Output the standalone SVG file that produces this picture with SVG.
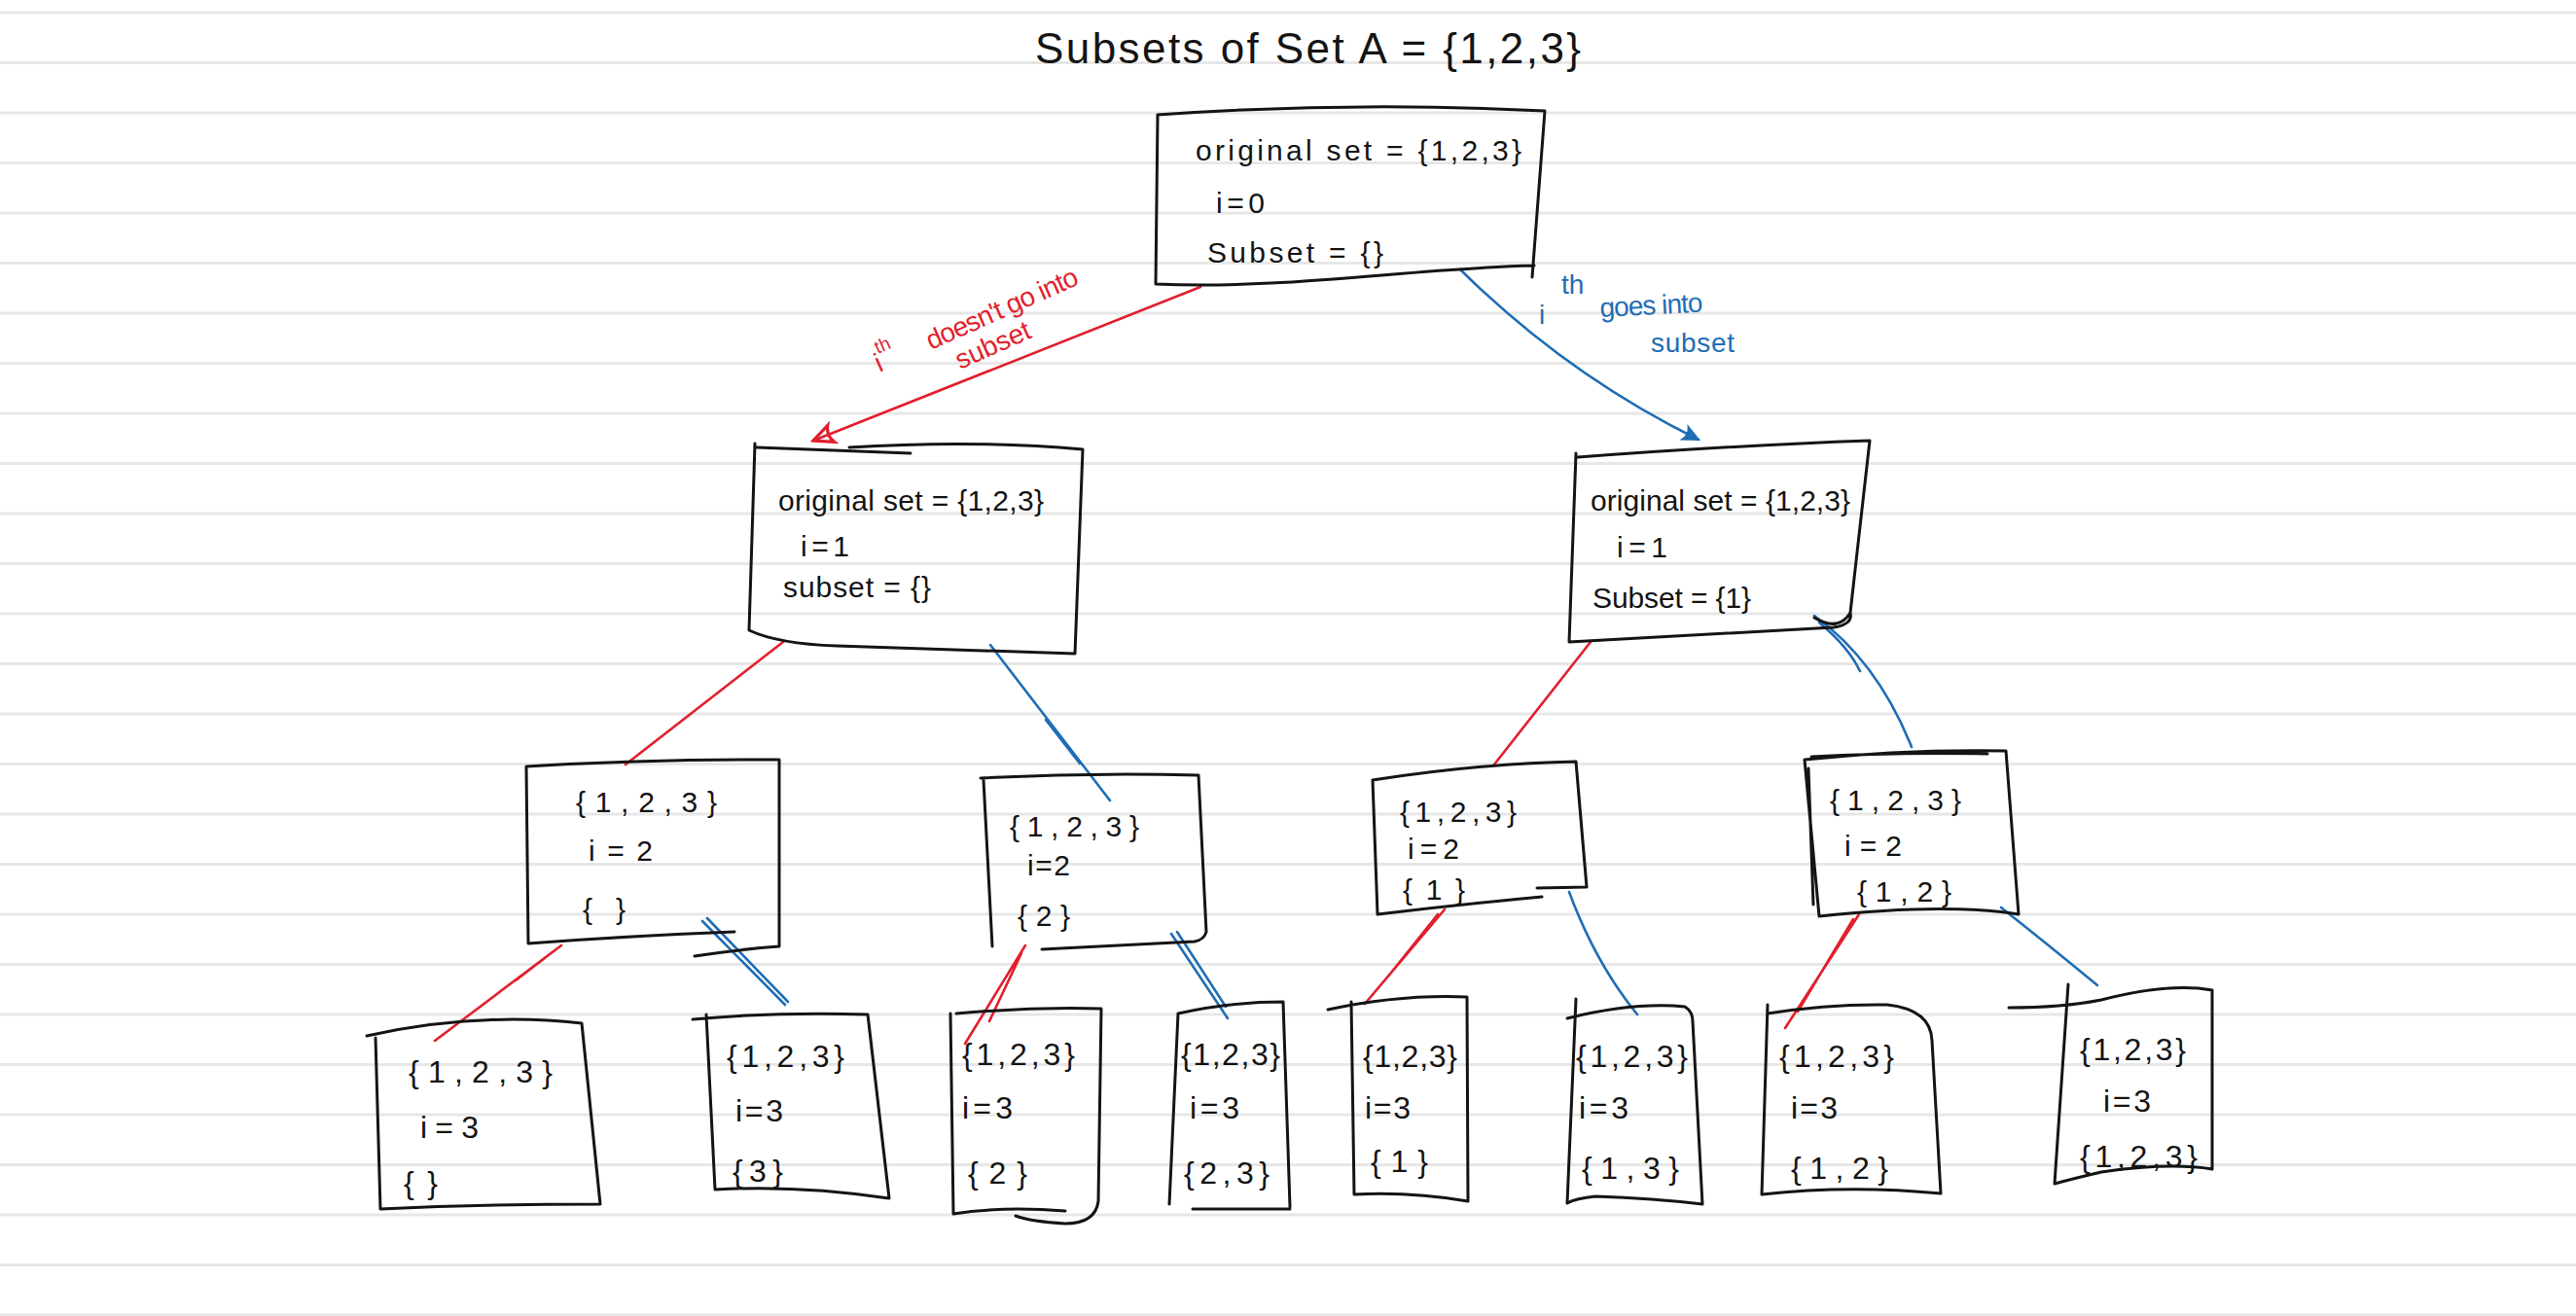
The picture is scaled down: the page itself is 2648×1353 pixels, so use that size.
<svg xmlns="http://www.w3.org/2000/svg" width="2648" height="1353" viewBox="0 0 2648 1353">
<style>
.rule{stroke:#e7e7e7;stroke-width:3;fill:none}
.box{fill:none;stroke:#141414;stroke-width:3;stroke-linecap:round;stroke-linejoin:round}
.red{fill:none;stroke:#e21f2d;stroke-width:2.6;stroke-linecap:round}
.blue{fill:none;stroke:#1f6db5;stroke-width:2.6;stroke-linecap:round}
.t{font-family:"Liberation Sans",Arial,sans-serif;font-size:30px;fill:#141414}
.s4{font-size:32px}
.title{font-size:44px}
.lr{fill:#e21f2d;font-size:28px}
.lb{fill:#1f6db5;font-size:28px}
</style>
<defs>
<marker id="ahR" viewBox="0 0 20 20" refX="18" refY="10" markerUnits="userSpaceOnUse" markerWidth="26" markerHeight="26" orient="auto">
<path d="M3,3 L18,10 L3,17 Q7,10 3,3 Z" fill="none" stroke="#e21f2d" stroke-width="2.5"/>
</marker>
<marker id="ahB" viewBox="0 0 20 20" refX="18" refY="10" markerUnits="userSpaceOnUse" markerWidth="20" markerHeight="20" orient="auto">
<path d="M3,3 L18,10 L3,17 Q7,10 3,3 Z" fill="#1f6db5" stroke="#1f6db5" stroke-width="2"/>
</marker>
</defs>
<rect width="2648" height="1353" fill="#ffffff"/>
<path class="rule" d="M0,13H2648M0,64.5H2648M0,116H2648M0,167.5H2648M0,219H2648M0,270.5H2648M0,322H2648M0,373.5H2648M0,425H2648M0,476.5H2648M0,528H2648M0,579.5H2648M0,631H2648M0,682.5H2648M0,734H2648M0,785.5H2648M0,837H2648M0,888.5H2648M0,940H2648M0,991.5H2648M0,1043H2648M0,1094.5H2648M0,1146H2648M0,1197.5H2648M0,1249H2648M0,1300.5H2648M0,1352H2648"/>

<text class="t title" x="1064" y="65" textLength="561" lengthAdjust="spacing">Subsets of Set A = {1,2,3}</text>

<g id="connectors">
<path class="red" d="M1234,295 Q1050,368 836,453" marker-end="url(#ahR)"/>
<path class="blue" d="M1501,277 Q1610,385 1746,452" marker-end="url(#ahB)"/>
<path class="red" d="M805,660 L643,786"/>
<path class="blue" d="M1018,663 L1141,823 M1075,740 L1110,785"/>
<path class="red" d="M1635,660 L1536,786"/>
<path class="blue" d="M1865,633 Q1930,680 1965,768 M1870,640 Q1900,665 1912,690"/>
<path class="red" d="M577,972 L447,1070 M560,985 L530,1008"/>
<path class="blue" d="M722,947 L807,1033 M727,944 L810,1030"/>
<path class="red" d="M1054,972 L992,1073 M1050,980 L1017,1050"/>
<path class="blue" d="M1204,960 L1262,1047 M1210,958 L1260,1035"/>
<path class="red" d="M1485,935 L1403,1032 M1478,940 L1430,1000"/>
<path class="blue" d="M1613,917 Q1640,990 1683,1043"/>
<path class="red" d="M1911,940 L1835,1057 M1905,945 L1848,1040"/>
<path class="blue" d="M2057,933 Q2110,975 2156,1013"/>
<text class="t lr" transform="translate(904,383) rotate(-24)" font-size="32">i<tspan font-size="19" dy="-18">th</tspan></text>
<text class="t lr" transform="translate(957,360) rotate(-24)" textLength="168" lengthAdjust="spacing">doesn't go into</text>
<text class="t lr" transform="translate(987,380) rotate(-24)" textLength="82" lengthAdjust="spacing">subset</text>
<text class="t lb" x="1582" y="333" font-size="34">i</text>
<text class="t lb" x="1605" y="302" font-size="21">th</text>
<text class="t lb" transform="translate(1645,326) rotate(-3)" textLength="106" lengthAdjust="spacing">goes into</text>
<text class="t lb" x="1697" y="362" textLength="86" lengthAdjust="spacing">subset</text>
</g>

<g id="n0">
<path class="box" d="M1190,118 Q1390,104 1588,114 L1575,285 M1577,273 C1450,276 1320,298 1188,292 L1190,118"/>
<text class="t" x="1229" y="165" textLength="335" lengthAdjust="spacing">original set = {1,2,3}</text>
<text class="t" x="1250" y="219" textLength="50" lengthAdjust="spacing">i=0</text>
<text class="t" x="1241" y="270" textLength="181" lengthAdjust="spacing">Subset = {}</text>
</g>

<g id="n1">
<path class="box" d="M776,456 L770,648 Q800,662 860,664 L1105,672 L1113,462 Q1000,452 873,460 M778,460 L936,466"/>
<text class="t" x="800" y="525" textLength="273" lengthAdjust="spacing">original set = {1,2,3}</text>
<text class="t" x="823" y="572" textLength="50" lengthAdjust="spacing">i = 1</text>
<text class="t" x="805" y="614" textLength="152" lengthAdjust="spacing">subset = {}</text>
</g>

<g id="n2">
<path class="box" d="M1620,466 L1613,660 L1885,645 Q1905,642 1902,630 L1922,453 Q1780,458 1622,470 M1865,635 Q1890,650 1902,630"/>
<text class="t" x="1635" y="525" textLength="267" lengthAdjust="spacing">original set = {1,2,3}</text>
<text class="t" x="1662" y="573" textLength="52" lengthAdjust="spacing">i = 1</text>
<text class="t" x="1637" y="625" textLength="163" lengthAdjust="spacing">Subset = {1}</text>
</g>

<g id="n3">
<path class="box" d="M541,788 L543,970 Q650,962 755,958 M714,983 Q760,976 801,973 L801,781 Q670,780 541,788"/>
<text class="t" x="592" y="835" textLength="145" lengthAdjust="spacing">{1,2,3}</text>
<text class="t" x="605" y="885" textLength="66" lengthAdjust="spacing">i = 2</text>
<text class="t" x="599" y="945" textLength="44" lengthAdjust="spacing">{}</text>
</g>

<g id="n4">
<path class="box" d="M1008,800 Q1120,794 1232,797 L1240,958 Q1238,966 1228,968 Q1150,972 1071,976 M1011,802 L1020,973"/>
<text class="t" x="1038" y="860" textLength="133" lengthAdjust="spacing">{1,2,3}</text>
<text class="t" x="1056" y="900" textLength="44" lengthAdjust="spacing">i=2</text>
<text class="t" x="1046" y="952" textLength="54" lengthAdjust="spacing">{2}</text>
</g>

<g id="n5">
<path class="box" d="M1411,802 Q1520,785 1620,783 L1631,912 L1580,913 M1585,922 Q1500,930 1416,940 L1411,802"/>
<text class="t" x="1439" y="845" textLength="120" lengthAdjust="spacing">{1,2,3}</text>
<text class="t" x="1447" y="883" textLength="53" lengthAdjust="spacing">i = 2</text>
<text class="t" x="1442" y="925" textLength="64" lengthAdjust="spacing">{1}</text>
</g>

<g id="n6">
<path class="box" d="M1855,781 Q1960,770 2062,772 L2075,940 Q2000,928 1870,942 L1855,781 M1859,790 L1864,930 M1862,778 Q1950,773 2043,775"/>
<text class="t" x="1881" y="833" textLength="135" lengthAdjust="spacing">{1,2,3}</text>
<text class="t" x="1896" y="880" textLength="59" lengthAdjust="spacing">i = 2</text>
<text class="t" x="1909" y="927" textLength="97" lengthAdjust="spacing">{1,2}</text>
</g>

<g id="n7">
<path class="box" d="M377,1065 Q490,1040 598,1052 L617,1238 Q500,1238 391,1243 L386,1067"/>
<text class="t s4" x="420" y="1113" textLength="148" lengthAdjust="spacing">{1,2,3}</text>
<text class="t s4" x="432" y="1170" textLength="60" lengthAdjust="spacing">i=3</text>
<text class="t s4" x="415" y="1227" textLength="35" lengthAdjust="spacing">{}</text>
</g>

<g id="n8">
<path class="box" d="M712,1048 Q800,1040 892,1043 L914,1232 Q820,1218 735,1223 L726,1043"/>
<text class="t s4" x="747" y="1097" textLength="121" lengthAdjust="spacing">{1,2,3}</text>
<text class="t s4" x="756" y="1153" textLength="49" lengthAdjust="spacing">i=3</text>
<text class="t s4" x="753" y="1215" textLength="52" lengthAdjust="spacing">{3}</text>
</g>

<g id="n9">
<path class="box" d="M983,1042 Q1060,1035 1132,1037 L1129,1235 Q1126,1258 1095,1258 Q1060,1256 1044,1250 M980,1248 Q1030,1240 1095,1245 M977,1042 L980,1248"/>
<text class="t s4" x="989" y="1095" textLength="116" lengthAdjust="spacing">{1,2,3}</text>
<text class="t s4" x="989" y="1150" textLength="52" lengthAdjust="spacing">i=3</text>
<text class="t s4" x="995" y="1217" textLength="61" lengthAdjust="spacing">{2}</text>
</g>

<g id="n10">
<path class="box" d="M1211,1042 Q1265,1030 1319,1030 L1326,1241 M1226,1243 L1326,1243 M1211,1042 L1202,1238"/>
<text class="t s4" x="1214" y="1095" textLength="102" lengthAdjust="spacing">{1,2,3}</text>
<text class="t s4" x="1223" y="1150" textLength="51" lengthAdjust="spacing">i=3</text>
<text class="t s4" x="1217" y="1217" textLength="88" lengthAdjust="spacing">{2,3}</text>
</g>

<g id="n11">
<path class="box" d="M1365,1038 Q1440,1022 1508,1025 L1509,1235 Q1450,1225 1392,1228 L1389,1030"/>
<text class="t s4" x="1401" y="1097" textLength="97" lengthAdjust="spacing">{1,2,3}</text>
<text class="t s4" x="1403" y="1150" textLength="47" lengthAdjust="spacing">i=3</text>
<text class="t s4" x="1409" y="1205" textLength="59" lengthAdjust="spacing">{1}</text>
</g>

<g id="n12">
<path class="box" d="M1611,1047 Q1680,1030 1732,1035 Q1740,1040 1740,1050 L1750,1238 Q1700,1232 1640,1230 Q1620,1232 1611,1237 L1620,1027"/>
<text class="t s4" x="1620" y="1097" textLength="115" lengthAdjust="spacing">{1,2,3}</text>
<text class="t s4" x="1623" y="1150" textLength="51" lengthAdjust="spacing">i=3</text>
<text class="t s4" x="1626" y="1212" textLength="100" lengthAdjust="spacing">{1,3}</text>
</g>

<g id="n13">
<path class="box" d="M1817,1042 Q1880,1032 1940,1033 Q1985,1038 1986,1070 L1995,1227 Q1900,1218 1811,1228 L1817,1033"/>
<text class="t s4" x="1829" y="1097" textLength="118" lengthAdjust="spacing">{1,2,3}</text>
<text class="t s4" x="1841" y="1150" textLength="48" lengthAdjust="spacing">i=3</text>
<text class="t s4" x="1841" y="1212" textLength="100" lengthAdjust="spacing">{1,2}</text>
</g>

<g id="n14">
<path class="box" d="M2065,1036 Q2120,1036 2160,1028 Q2230,1010 2274,1018 L2274,1202 Q2230,1195 2160,1205 Q2130,1212 2112,1217 L2126,1012"/>
<text class="t s4" x="2138" y="1090" textLength="109" lengthAdjust="spacing">{1,2,3}</text>
<text class="t s4" x="2162" y="1143" textLength="49" lengthAdjust="spacing">i=3</text>
<text class="t s4" x="2138" y="1200" textLength="121" lengthAdjust="spacing">{1,2,3}</text>
</g>
</svg>
